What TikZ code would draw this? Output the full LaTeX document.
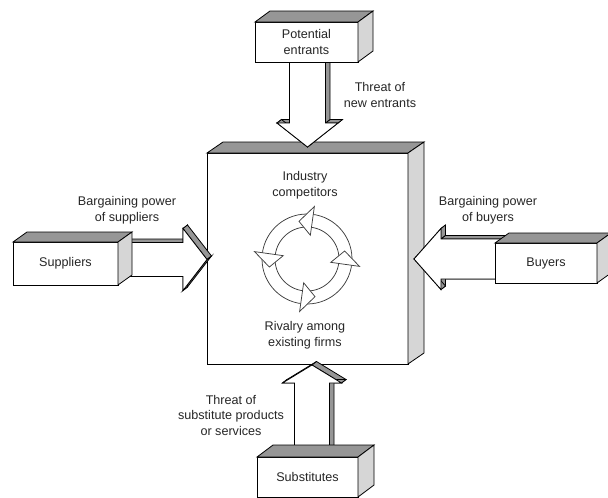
\documentclass[tikz,border=0pt]{standalone}
\usepackage{fontspec}
\setmainfont{Liberation Sans}
\usetikzlibrary{calc}
\definecolor{topgray}{RGB}{150,150,150}
\definecolor{sidegray}{RGB}{214,214,214}
\definecolor{edgegray}{RGB}{150,150,150}
\begin{document}
\begin{tikzpicture}[x=1pt,y=-1pt,line width=0.8pt,line join=miter,
  lbl/.style={align=center,inner sep=0pt,text=black!85,
    font=\fontsize{12.6}{15.5}\selectfont},
  boxnode/.style={draw,fill=white,inner sep=0pt,outer sep=0pt,align=center,
    text=black!85,font=\fontsize{12.6}{15.5}\selectfont},
  ringline/.style={line width=0.75pt,draw=black!75}]
\useasboundingbox (0,0) rectangle (608,498);

% faces of a box seen from above right: #1 node, (#2,#3) depth offset
\newcommand\boxfaces[3]{%
  \filldraw[fill=topgray] (#1.north west) -- ++(#2,#3)
    -- ([shift={(#2,#3)}]#1.north east) -- (#1.north east) -- cycle;
  \filldraw[fill=sidegray] (#1.north east) -- ++(#2,#3)
    -- ([shift={(#2,#3)}]#1.south east) -- (#1.south east) -- cycle;}

% extruded block arrow through points #1 1..#2
\newcommand\slabarrow[2]{%
  \foreach \i in {1,...,#2}{%
    \pgfmathtruncatemacro\j{mod(\i,#2)+1}
    \filldraw[fill=edgegray] (#1\i) -- (#1\j) -- ([shift={(4.5,-3.5)}]#1\j)
      -- ([shift={(4.5,-3.5)}]#1\i) -- cycle;
  }
  \filldraw[fill=white] (#11) \foreach \i in {2,...,#2}{ -- (#1\i) } -- cycle;}

% central block
\node[boxnode,minimum width=201,minimum height=211] (ind) at (307.5,258.5) {};
\boxfaces{ind}{16}{-11}
\node[lbl] (ic) at (305,185) {Industry\\competitors};
\node[lbl] (rae) at (305,335) {Rivalry among\\existing firms};

% rivalry cycle
\coordinate (rc) at (307,259);
\draw[ringline] (rc) circle[radius=45];
\draw[ringline] (rc) circle[radius=32];
\foreach \ang in {8,98,188,278}{
  \pgfmathsetmacro\tipang{\ang-20}
  \filldraw[ringline,fill=white] ($(rc)+(\ang:53)$) -- ($(rc)+(\tipang:38.5)$)
    -- ($(rc)+(\ang:24)$) -- cycle;}

% arrow: potential entrants -> industry
\coordinate (dn1) at (289.5,50);
\coordinate (dn2) at (289.5,123);
\coordinate (dn3) at (277,123);
\coordinate (dn4) at (307.5,147);
\coordinate (dn5) at (338,123);
\coordinate (dn6) at (325.5,123);
\coordinate (dn7) at (325.5,50);
\slabarrow{dn}{7}

% arrow: suppliers -> industry
\coordinate (rt1) at (105,276.5);
\coordinate (rt2) at (105,242.5);
\coordinate (rt3) at (183,242.5);
\coordinate (rt4) at (183,228.5);
\coordinate (rt5) at (207,259.5);
\coordinate (rt6) at (183,290.5);
\coordinate (rt7) at (183,276.5);
\slabarrow{rt}{7}

% arrow: buyers -> industry
\coordinate (lf1) at (510,239);
\coordinate (lf2) at (510,279);
\coordinate (lf3) at (441,279);
\coordinate (lf4) at (441,289.5);
\coordinate (lf5) at (414,259);
\coordinate (lf6) at (441,228.5);
\coordinate (lf7) at (441,239);
\slabarrow{lf}{7}

% arrow: substitutes -> industry
\coordinate (up1) at (329.5,462);
\coordinate (up2) at (294.5,462);
\coordinate (up3) at (294.5,383);
\coordinate (up4) at (282.5,383);
\coordinate (up5) at (312,365);
\coordinate (up6) at (341.5,383);
\coordinate (up7) at (329.5,383);
\slabarrow{up}{7}

% outer forces
\node[boxnode,minimum width=103,minimum height=40] (pe) at (306.5,42) {Potential\\entrants};
\boxfaces{pe}{15}{-11}
\node[boxnode,minimum width=105,minimum height=43] (sup) at (65.5,263.5) {Suppliers};
\boxfaces{sup}{14}{-10}
\node[boxnode,minimum width=102,minimum height=40] (buy) at (546,263) {Buyers};
\boxfaces{buy}{14}{-10}
\node[boxnode,minimum width=101,minimum height=40] (sub) at (307.5,477) {Substitutes};
\boxfaces{sub}{16}{-12}

% force labels
\node[lbl] (tne) at (380,95) {Threat of\\new entrants};
\node[lbl] (bps) at (127,210) {Bargaining power\\of suppliers};
\node[lbl] (bpb) at (488,210) {Bargaining power\\of buyers};
\node[lbl] (tsp) at (231,415) {Threat of\\substitute products\\or services};
\end{tikzpicture}
\end{document}
